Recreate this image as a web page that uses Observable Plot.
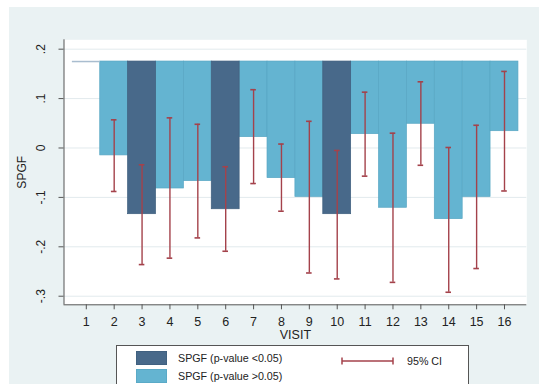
<!DOCTYPE html>
<html><head><meta charset="utf-8">
<script src="https://cdn.jsdelivr.net/npm/d3@7"></script>
<script src="https://cdn.jsdelivr.net/npm/@observablehq/plot@0.6"></script>
<style>
html,body{margin:0;padding:0;background:#fff;width:539px;height:384px;overflow:hidden;font-family:"Liberation Sans",Arial,sans-serif;}
#panel{position:absolute;left:9px;top:7px;right:0;bottom:0;background:#eaf2f3;}
#chart{position:absolute;left:0;top:0;width:539px;}
#legend{position:relative;margin-left:116px;width:353px;height:45px;background:#fff;border:1px solid #555;border-bottom:none;box-sizing:border-box;font-size:10.7px;color:#222;}
#legend .sw{position:absolute;left:19px;width:31px;height:14px;}
#legend .lab{position:absolute;left:61px;line-height:12px;white-space:nowrap;}
</style></head><body>
<div id="panel"></div>
<div id="chart"></div>
<script>
// ---- data ----
const visits = [1, 2, 3, 4, 5, 6, 7, 8, 9, 10, 11, 12, 13, 14, 15, 16];
const spgf = [0.175, -0.015, -0.134, -0.082, -0.067, -0.124, 0.022, -0.061, -0.099, -0.134, 0.028, -0.121, 0.049, -0.144, -0.099, 0.034];
const ciLow = [null, -0.088, -0.236, -0.223, -0.182, -0.209, -0.072, -0.128, -0.253, -0.265, -0.057, -0.272, -0.035, -0.292, -0.244, -0.087];
const ciHigh = [null, 0.057, -0.034, 0.061, 0.048, -0.038, 0.118, 0.008, 0.054, -0.005, 0.113, 0.030, 0.134, 0.001, 0.046, 0.155];
const significant = [false, false, true, false, false, true, false, false, false, true, false, false, false, false, false, false];
const baseline = 0.175;
const yTicks = [0.2, 0.1, 0, -0.1, -0.2, -0.3];
const yTickLabels = [".2", ".1", "0", "-.1", "-.2", "-.3"];
const legendLabels = ["SPGF (p-value <0.05)", "SPGF (p-value >0.05)"];
const ciLabel = "95% CI";
const xDomain = [0.2, 16.8];
const yDomain = [-0.3174, 0.219];

// ---- styles ----
const darkFill = "#48698a", darkStroke = "#3e5e7d";
const lightFill = "#64b4d1", lightStroke = "#57a6c3";
const ciColor = "#a4424b";
const zeroBarColor = "#a9bdcf";
const capHalf = 0.1;

const rows = visits.map((v, i) => ({visit: v, value: spgf[i], lo: ciLow[i], hi: ciHigh[i], sig: significant[i]}));
const barRows = rows.filter(d => d.value !== baseline);
const flatRows = rows.filter(d => d.value === baseline);
const ciRows = rows.filter(d => d.lo != null);

const chart = Plot.plot({
  width: 539,
  height: 345,
  marginLeft: 63.5,
  marginRight: 12.7,
  marginTop: 39.3,
  marginBottom: 40.7,
  style: {background: "transparent", fontFamily: "'Liberation Sans', Arial, sans-serif", color: "#222"},
  x: {type: "linear", domain: xDomain},
  y: {domain: yDomain},
  marks: [
    Plot.frame({fill: "white", stroke: "none"}),
    Plot.gridY(yTicks, {stroke: "#e2eaed", strokeOpacity: 1, strokeWidth: 1}),
    Plot.rect(barRows.filter(d => !d.sig), {x1: d => d.visit - 0.5, x2: d => d.visit + 0.5, y1: () => baseline, y2: "value", fill: lightFill, stroke: lightStroke, strokeWidth: 0.7}),
    Plot.rect(barRows.filter(d => d.sig), {x1: d => d.visit - 0.5, x2: d => d.visit + 0.5, y1: () => baseline, y2: "value", fill: darkFill, stroke: darkStroke, strokeWidth: 0.7}),
    Plot.ruleY(flatRows, {y: "value", x1: d => d.visit - 0.5, x2: d => d.visit + 0.5, stroke: zeroBarColor, strokeWidth: 1.5}),
    Plot.ruleX(ciRows, {x: "visit", y1: "lo", y2: "hi", stroke: ciColor, strokeWidth: 1.4}),
    Plot.ruleY(ciRows, {y: "lo", x1: d => d.visit - capHalf, x2: d => d.visit + capHalf, stroke: ciColor, strokeWidth: 1.6}),
    Plot.ruleY(ciRows, {y: "hi", x1: d => d.visit - capHalf, x2: d => d.visit + capHalf, stroke: ciColor, strokeWidth: 1.6}),
    Plot.ruleX([xDomain[0]], {stroke: "#555", strokeWidth: 1}),
    Plot.ruleY([yDomain[0]], {stroke: "#555", strokeWidth: 1}),
    Plot.axisY({ticks: yTicks, tickFormat: d => yTickLabels[yTicks.indexOf(d)], tickRotate: -90, tickSize: 5, tickPadding: 14, fontSize: 12, stroke: "#555",
      label: "SPGF", labelArrow: "none", labelAnchor: "center", labelOffset: 47}),
    Plot.axisX({ticks: visits, tickFormat: d => String(d), tickSize: 5, tickPadding: 7, fontSize: 12.5, stroke: "#555",
      label: "VISIT", labelArrow: "none", labelAnchor: "center", labelOffset: 34})
  ]
});
document.getElementById("chart").appendChild(chart);

// ---- legend ----
const legend = document.createElement("div");
legend.id = "legend";
const swFills = [darkFill, lightFill];
const swStrokes = [darkStroke, lightStroke];
const swTops = [5, 22.7];
legendLabels.forEach((lab, i) => {
  const sw = document.createElement("div");
  sw.className = "sw";
  sw.style.top = swTops[i] + "px";
  sw.style.background = swFills[i];
  sw.style.boxShadow = "inset 0 0 0 0.7px " + swStrokes[i];
  legend.appendChild(sw);
  const t = document.createElement("div");
  t.className = "lab";
  t.style.top = (swTops[i] + 1) + "px";
  t.textContent = lab;
  legend.appendChild(t);
});
const ci = document.createElementNS("http://www.w3.org/2000/svg", "svg");
ci.setAttribute("width", 54); ci.setAttribute("height", 10);
ci.style.position = "absolute"; ci.style.left = "224px"; ci.style.top = "10px";
ci.innerHTML = `<line x1="1" x2="52" y1="5" y2="5" stroke="${ciColor}" stroke-width="1.6"/>
<line x1="1" x2="1" y1="1.5" y2="8.5" stroke="${ciColor}" stroke-width="1.5"/>
<line x1="52" x2="52" y1="1.5" y2="8.5" stroke="${ciColor}" stroke-width="1.5"/>`;
legend.appendChild(ci);
const ct = document.createElement("div");
ct.className = "lab";
ct.style.left = "290px"; ct.style.top = "9px";
ct.textContent = ciLabel;
legend.appendChild(ct);
document.getElementById("chart").appendChild(legend);
</script>
</body></html>
